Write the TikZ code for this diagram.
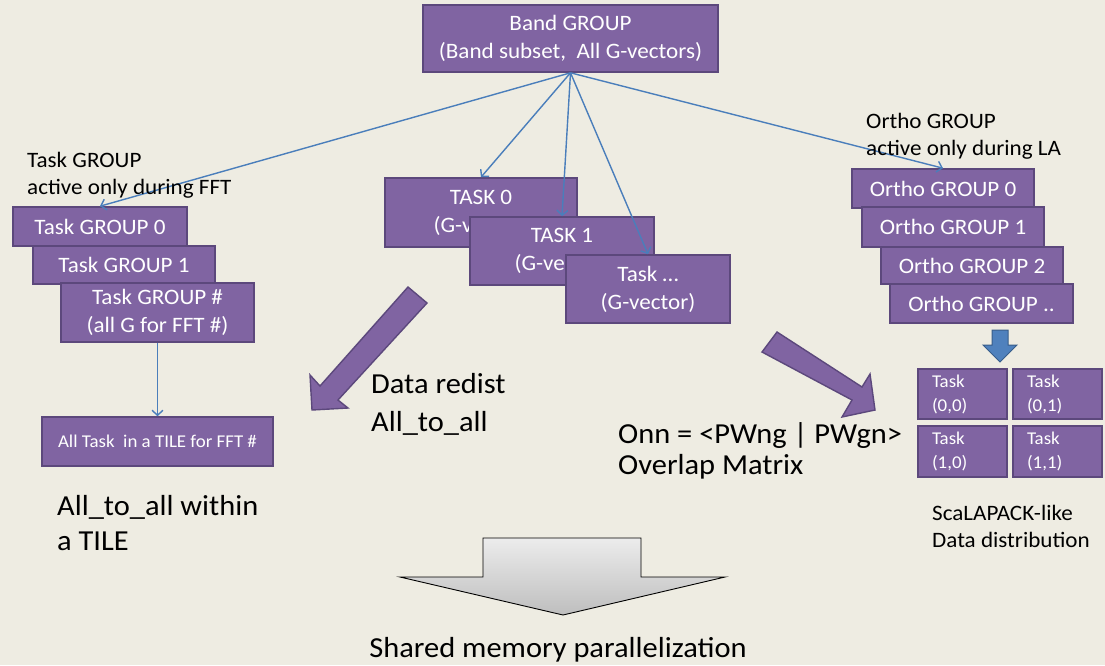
\documentclass[tikz,border=0pt]{standalone}
\usepackage{fontspec}
\setmainfont[FakeStretch=1.05]{Carlito}
\usetikzlibrary{arrows.meta}

\definecolor{bg}{RGB}{238,236,226}
\definecolor{boxfill}{RGB}{128,100,162}
\definecolor{boxline}{RGB}{92,72,124}
\definecolor{link}{RGB}{74,126,187}
\definecolor{bluefill}{RGB}{79,129,189}
\definecolor{blueline}{RGB}{56,93,138}

\tikzset{
  pbox/.style={rectangle, fill=boxfill, draw=boxline, line width=1.6pt,
    text=white, inner sep=0pt, align=center,
    font=\fontsize{22}{28}\selectfont},
  cell/.style={rectangle, fill=boxfill, draw=boxline, line width=1.6pt,
    text=white, inner xsep=14pt, inner ysep=0pt, text width=61pt,
    minimum height=50pt, align=left, font=\fontsize{18}{24}\selectfont},
  conn/.style={draw=link, line width=1.4pt,
    -{Straight Barb[length=5pt,width=11pt]}},
  lab/.style={anchor=base west, inner sep=0pt, text=black,
    font=\fontsize{22}{27}\selectfont},
  biglab/.style={anchor=base west, inner sep=0pt, text=black,
    font=\fontsize{29}{34}\selectfont},
  fatarrow/.style={fill=boxfill, draw=boxline, line width=1.4pt, line join=miter}
}

\begin{document}
\begin{tikzpicture}[x=1pt, y=-1pt]
\useasboundingbox[fill=bg] (0,0) rectangle (1105,665);

% band group
\node[pbox, minimum width=295pt, minimum height=67pt] (band) at (570.5,38.5)
  {Band GROUP\\(Band subset,\ \ All G-vectors)};

% task groups (left stack)
\node[pbox, minimum width=174pt, minimum height=39pt] (tg0) at (100,226.5) {Task GROUP 0};
\node[pbox, minimum width=182pt, minimum height=38pt] (tg1) at (124,265) {Task GROUP 1};
\node[pbox, minimum width=193pt, minimum height=59pt] (tgn) at (157.5,312.5)
  {Task GROUP \#\\(all G for FFT \#)};

\node[pbox, minimum width=231pt, minimum height=49pt,
  font=\fontsize{18}{22}\selectfont] (tile) at (157.5,441.5) {All Task\ \ in a TILE for FFT \#};

% tasks (middle stack)
\node[pbox, minimum width=192pt, minimum height=69pt] (t0) at (481,212.5) {TASK 0\\(G-vector)};
\node[pbox, minimum width=184pt, minimum height=68pt] (t1) at (562,251) {TASK 1\\(G-vector)};
\node[pbox, minimum width=164pt, minimum height=68pt] (tn) at (648,289) {Task \dots\\(G-vector)};

% ortho groups (right stack)
\node[pbox, minimum width=182pt, minimum height=39pt] (o0) at (943,188.5) {Ortho GROUP 0};
\node[pbox, minimum width=182pt, minimum height=40pt] (o1) at (953,227) {Ortho GROUP 1};
\node[pbox, minimum width=182pt, minimum height=37pt] (o2) at (972,265.5) {Ortho GROUP 2};
\node[pbox, minimum width=183pt, minimum height=39pt] (o3) at (981.5,303.5) {Ortho GROUP ..};

% 2x2 process grid
\node[cell] (g00) at (962.5,394) {Task\\(0,0)};
\node[cell] (g01) at (1057.5,394) {Task\\(0,1)};
\node[cell, minimum height=51pt] (g10) at (962.5,451.5) {Task\\(1,0)};
\node[cell, minimum height=51pt] (g11) at (1057.5,451.5) {Task\\(1,1)};

% connectors from the band group
\draw[conn] (band.south) -- (tg0.north);
\draw[conn] (band.south) -- (t0.north);
\draw[conn] (band.south) -- (t1.north);
\draw[conn] (band.south) -- (tn.north);
\draw[conn] (band.south) -- (o0.north);
\draw[conn] (tgn.south) -- (tile.north);

% block arrows
\draw[fatarrow] (408,287) -- (427,303) -- (338,400) -- (348,408) -- (312,410)
  -- (310,375) -- (320,386) -- cycle;
\draw[fatarrow] (777,332) -- (862,387) -- (870,374) -- (875,410) -- (842,417)
  -- (852,400) -- (762,352) -- cycle;
\draw[fill=bluefill, draw=blueline, line width=1pt] (992,330) -- (1008,330) -- (1008,345)
  -- (1017,345) -- (1000,362) -- (983,345) -- (992,345) -- cycle;
\draw[top color={rgb,255:red,236;green,236;blue,236}, bottom color={rgb,255:red,190;green,190;blue,190},
  draw=black, line width=0.9pt]
  (483,538) -- (641,538) -- (641,577) -- (725,577) -- (563,615) -- (400,577)
  -- (483,577) -- cycle;

% labels
\node[lab] (tgl1) at (27,167) {Task GROUP};
\node[lab] (tgl2) at (27,194) {active only during\ FFT};
\node[lab] (ogl1) at (866,128) {Ortho GROUP};
\node[lab] (ogl2) at (866,155) {active only during LA};
\node[biglab] (dr1) at (371,393) {Data redist};
\node[biglab] (dr2) at (371,431) {All\_to\_all};
\node[biglab] (ov1) at (618,443) {Onn = <PWng | PWgn>};
\node[biglab] (ov2) at (618,474) {Overlap Matrix};
\node[biglab] (at1) at (57,515) {All\_to\_all within};
\node[biglab] (at2) at (57,550) {a TILE};
\node[lab] (sc1) at (932,520) {ScaLAPACK-like};
\node[lab] (sc2) at (932,547) {Data distribution};
\node[anchor=base, inner sep=0pt, font=\fontsize{29}{36}\selectfont] (shm) at (558,657)
  {Shared memory parallelization};
\end{tikzpicture}
\end{document}
